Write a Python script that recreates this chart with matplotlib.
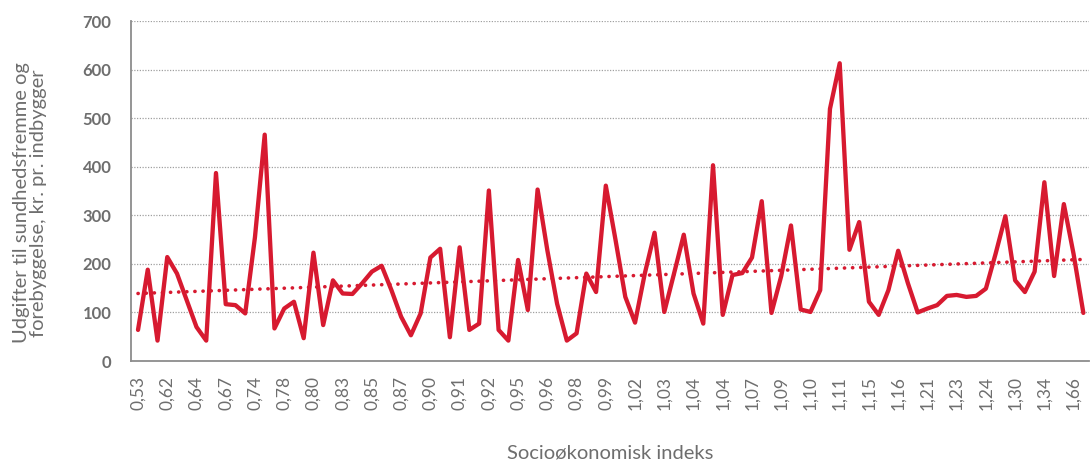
import numpy as np
import matplotlib
matplotlib.use("Agg")
import matplotlib.pyplot as plt

# Expenditure on health promotion and prevention per inhabitant (DKK),
# municipalities ordered by socio-economic index
spending = [
    64, 188, 42, 214, 180, 125, 70, 42, 387, 117,
    115, 98, 255, 466, 67, 108, 122, 47, 223, 74,
    166, 139, 138, 160, 184, 196, 146, 91, 53, 98,
    213, 231, 49, 234, 64, 77, 351, 64, 42, 208,
    105, 353, 228, 118, 42, 57, 180, 142, 361, 249,
    132, 79, 180, 264, 101, 180, 260, 139, 77, 403,
    95, 177, 181, 213, 329, 99, 175, 279, 106, 101,
    146, 519, 613, 229, 286, 122, 95, 146, 227, 160,
    100, 108, 115, 134, 136, 132, 134, 149, 221, 298,
    166, 142, 184, 368, 175, 323, 220, 99,
]

# Index values shown on the category axis (every third municipality)
index_labels = [
    "0,53", "0,62", "0,64", "0,67", "0,74", "0,78", "0,80", "0,83", "0,85",
    "0,87", "0,90", "0,91", "0,92", "0,95", "0,96", "0,98", "0,99", "1,02",
    "1,03", "1,04", "1,04", "1,07", "1,09", "1,10", "1,11", "1,15", "1,16",
    "1,21", "1,23", "1,24", "1,30", "1,34", "1,66",
]
label_step = 3

y_ticks = [0, 100, 200, 300, 400, 500, 600, 700]

RED = "#D71A30"
GREY_TEXT = "#6E6E6E"
GREY_AXIS = "#8C8C8C"
FONT = "Lato"

x = np.arange(len(spending))
y = np.array(spending, dtype=float)

fig = plt.figure(figsize=(10.9, 4.62), dpi=100)
ax = fig.add_axes([131 / 1090, 101 / 462, 958 / 1090, 340 / 462])

# dotted horizontal gridlines
for v in y_ticks[1:]:
    ax.axhline(v, color="#A0A0A0", lw=0.9, ls=(0, (1.0, 1.2)), zorder=1)

# linear trend line
coef = np.polyfit(x, y, 1)
trend = np.polyval(coef, x)
ax.plot(x, trend, color=RED, lw=2.6, dashes=(0.05, 2.2),
        dash_capstyle="round", zorder=2)

# main series
ax.plot(x, y, color=RED, lw=3.1, solid_joinstyle="round",
        solid_capstyle="round", zorder=3)

ax.set_xlim(-0.72, len(spending) - 0.42)
ax.set_ylim(0, 700)

ax.set_yticks(y_ticks)
ax.set_yticklabels([str(v) for v in y_ticks], fontsize=12,
                   fontweight="bold", color=GREY_TEXT, family=FONT)

tick_pos = x[::label_step][:len(index_labels)]
ax.set_xticks(tick_pos)
ax.set_xticklabels(index_labels, rotation=90, fontsize=12.5,
                   color=GREY_TEXT, family=FONT, va="top")

ax.tick_params(axis="y", length=0, pad=14)
ax.tick_params(axis="x", length=0, pad=11)

for side in ("top", "right"):
    ax.spines[side].set_visible(False)
for side in ("left", "bottom"):
    ax.spines[side].set_color(GREY_AXIS)
    ax.spines[side].set_linewidth(1.3)

fig.text(30 / 1090, 1 - 203 / 462,
         "Udgifter til sundhedsfremme og\nforebyggelse, kr. pr. indbygger",
         rotation=90, ha="center", va="center", fontsize=14.5,
         color=GREY_TEXT, family=FONT, linespacing=1.0)

fig.text(610 / 1090, 1 - 453 / 462, "Socioøkonomisk indeks",
         ha="center", va="center", fontsize=14.5, color=GREY_TEXT, family=FONT)

fig.savefig("out.png", dpi=100)
